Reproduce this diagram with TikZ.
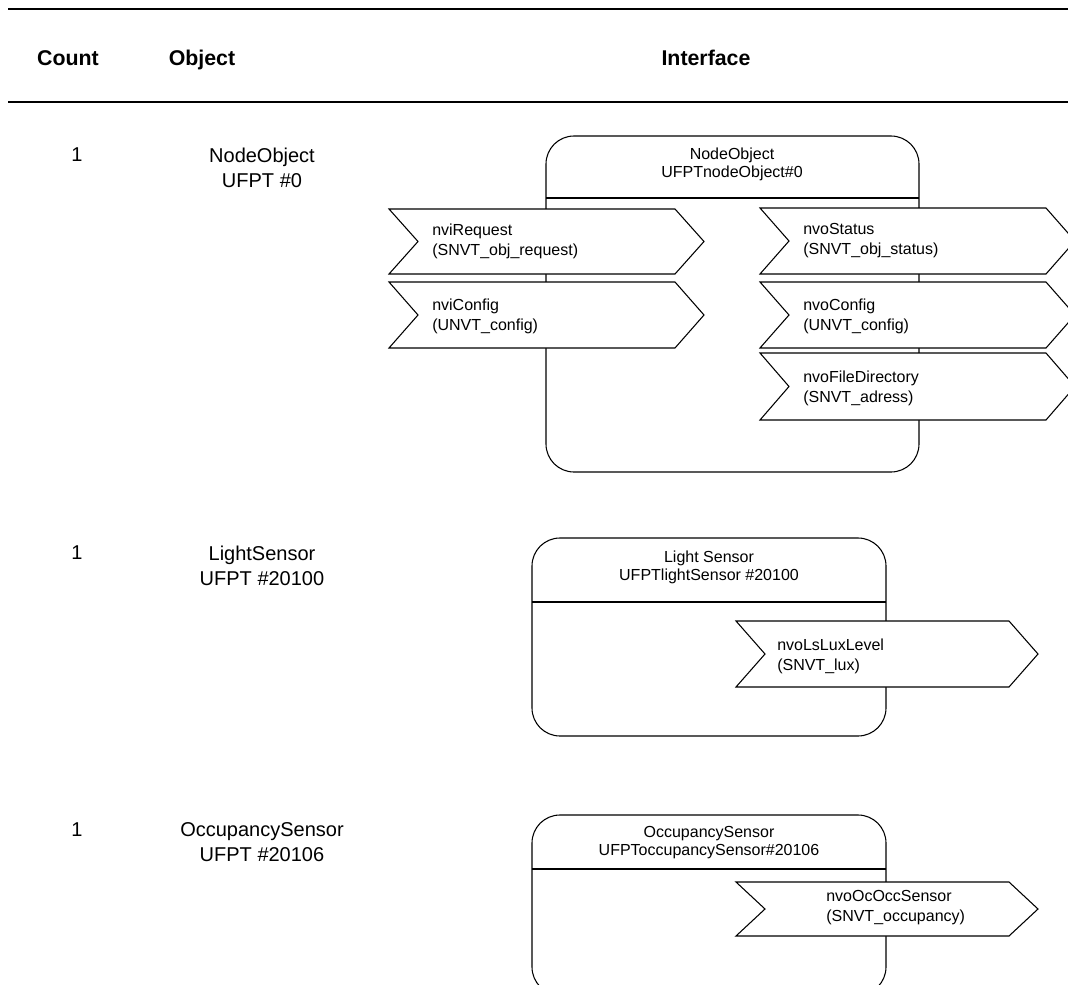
\documentclass[tikz,border=0pt]{standalone}
\usepackage{fontspec}
\setmainfont{Liberation Sans}
\begin{document}
\begin{tikzpicture}[x=0.75pt,y=-0.75pt,
  rule/.style={line width=1.9pt},
  hdr/.style={font=\bfseries\fontsize{16}{19}\selectfont, anchor=base},
  coltext/.style={font=\fontsize{15}{18.75}\selectfont, align=center, inner sep=0pt},
  objbox/.style={draw, line width=0.8pt, rounded corners=21pt},
  divider/.style={line width=0.8pt},
  nvshape/.style={draw, fill=white, line width=0.8pt},
  nvtext/.style={font=\fontsize{12}{15}\selectfont, align=left, anchor=west, inner sep=0pt},
  boxtitle/.style={font=\fontsize{12}{13.5}\selectfont, align=center, inner sep=0pt}]

\useasboundingbox (0,0) rectangle (1068,985);
\clip (0,0) rectangle (1068,985);

% network variable arrow: left x, right corner x, top y, bottom y
\newcommand\nvarrow[4]{%
  \draw[nvshape] (#1,#3) -- (#2,#3) -- ({#2+29},{(#3+#4)/2}) -- (#2,#4)
    -- (#1,#4) -- ({#1+29},{(#3+#4)/2}) -- cycle;}

% table rules
\draw[rule] (8,9) -- (1068,9);
\draw[rule] (8,102) -- (1068,102);

% column headings
\node[hdr] (hcount) at (68,65) {Count};
\node[hdr] (hobject) at (202,65) {Object};
\node[hdr] (hiface) at (706,65) {Interface};

% ---------- row 1: node object ----------
\node[coltext] (c1) at (77,155) {1};
\node[coltext] (o1) at (262,167.5) {NodeObject\\UFPT \#0};

\draw[objbox] (546,136) rectangle (919,472);
\draw[divider] (546,198) -- (919,198);
\node[boxtitle] (t1) at (732,164) {NodeObject\\UFPTnodeObject\#0};

\nvarrow{389}{675}{209}{274}
\nvarrow{389}{675}{282}{348}
\nvarrow{760}{1046}{208}{274}
\nvarrow{760}{1046}{282}{348}
\nvarrow{760}{1046}{353}{420}
\node[nvtext] (nviRequest) at (432,241) {nviRequest\\(SNVT\_obj\_request)};
\node[nvtext] (nviConfig) at (432,316) {nviConfig\\(UNVT\_config)};
\node[nvtext] (nvoStatus) at (803,241) {nvoStatus\\(SNVT\_obj\_status)};
\node[nvtext] (nvoConfig) at (803,316) {nvoConfig\\(UNVT\_config)};
\node[nvtext] (nvoFileDirectory) at (803,388) {nvoFileDirectory\\(SNVT\_adress)};

% ---------- row 2: light sensor ----------
\node[coltext] (c2) at (77,553) {1};
\node[coltext] (o2) at (262,565.5) {LightSensor\\UFPT \#20100};

\draw[objbox] (532,538) rectangle (886,736);
\draw[divider] (532,602) -- (886,602);
\node[boxtitle] (t2) at (709,567) {Light Sensor\\UFPTlightSensor \#20100};

\nvarrow{736}{1009}{621}{687}
\node[nvtext] (nvoLsLuxLevel) at (777,656) {nvoLsLuxLevel\\(SNVT\_lux)};

% ---------- row 3: occupancy sensor ----------
\node[coltext] (c3) at (77,830) {1};
\node[coltext] (o3) at (262,842.5) {OccupancySensor\\UFPT \#20106};

\draw[objbox] (532,815) rectangle (886,995);
\draw[divider] (532,869) -- (886,869);
\node[boxtitle] (t3) at (709,843) {OccupancySensor\\UFPToccupancySensor\#20106};

\nvarrow{736}{1009}{882}{936}
\node[nvtext] (nvoOcOccSensor) at (826,908) {nvoOcOccSensor\\(SNVT\_occupancy)};

\end{tikzpicture}
\end{document}
